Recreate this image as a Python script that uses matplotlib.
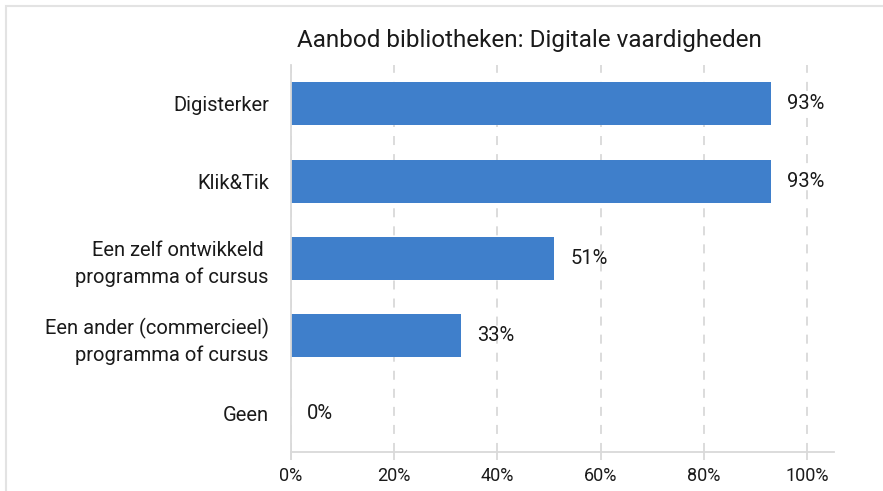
import matplotlib.pyplot as plt
from matplotlib.patches import Rectangle

categories = ["Digisterker", "Klik&Tik", "Een zelf ontwikkeld \nprogramma of cursus",
              "Een ander (commercieel)\nprogramma of cursus", "Geen"]
values = [93, 93, 51, 33, 0]
ticks = [0, 20, 40, 60, 80, 100]
tick_labels = ["0%", "20%", "40%", "60%", "80%", "100%"]

plt.rcParams['font.family'] = ['Roboto', 'DejaVu Sans']
txt = "#1a1a1a"
grid_c = "#d9d9d9"

fig = plt.figure(figsize=(8.83, 4.91), dpi=100)
ax = fig.add_axes([0.3296, 0.0794, 0.6149, 0.7882])

y = list(range(len(categories)))
ax.barh(y, values, height=0.555, color="#3f7fcb", zorder=3)
for yi, v in zip(y, values):
    ax.annotate(f"{v}%", (v, yi), xytext=(11.5, 0), textcoords="offset points",
                va="center", ha="left", fontsize=14.5, color=txt)

ax.set_xlim(0, 105.2)
ax.set_ylim(len(categories) - 0.5, -0.5)
ax.set_xticks(ticks)
ax.set_xticklabels(tick_labels, fontsize=13, color=txt)
ax.set_yticks(y)
ax.set_yticklabels(categories, fontsize=14.5, color=txt, linespacing=1.45)
ax.tick_params(axis="y", length=0, pad=16)
ax.tick_params(axis="x", length=6, color=grid_c, width=1.3, pad=5)
ax.xaxis.grid(True, linestyle=(0, (5, 5)), color=grid_c, linewidth=1.3, zorder=0)

for s in ["top", "right"]:
    ax.spines[s].set_visible(False)
ax.spines["bottom"].set_color(grid_c)
ax.spines["bottom"].set_linewidth(1.3)
ax.spines["left"].set_visible(False)
ax.axvline(0, ymin=-0.018, ymax=1, color=grid_c, linewidth=1.3, clip_on=False, zorder=4)

fig.text(0.5997, 0.9185, "Aanbod bibliotheken: Digitale vaardigheden", ha="center",
         va="center", fontsize=17.5, color=txt)

# outer frame
fig.patches.append(Rectangle((6 / 883, -0.05), 1.2, 1 - 6 / 491 + 0.05, transform=fig.transFigure,
                             fill=False, edgecolor="#e3e3e3", linewidth=1.5))

fig.savefig("out.png", dpi=100)
